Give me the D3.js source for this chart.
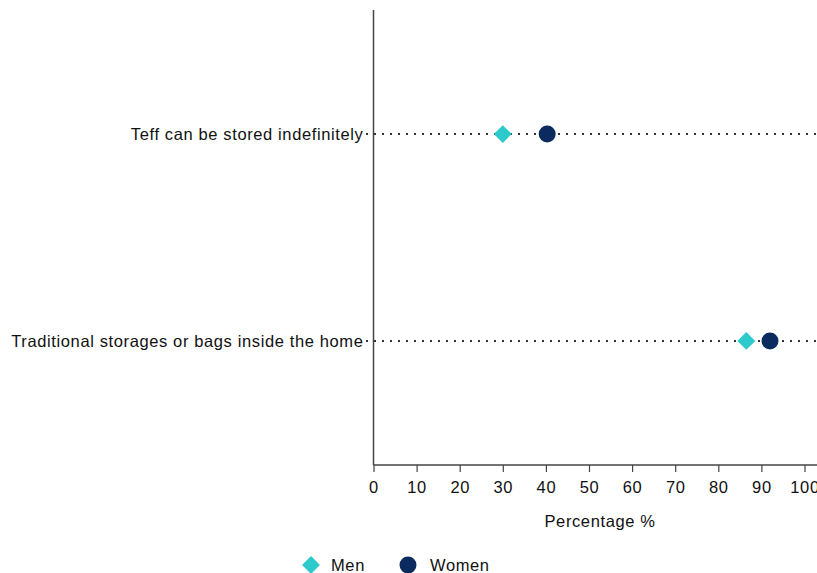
<!DOCTYPE html>
<html><head><meta charset="utf-8">
<script src="https://cdn.jsdelivr.net/npm/d3@7"></script>
<style>body{margin:0;background:#fff;}svg{display:block;font-family:"Liberation Sans",Arial,Helvetica,sans-serif;}text{letter-spacing:0.62px;}</style>
</head><body><svg id="c" width="817" height="573"></svg>
<script>
const categories = ["Teff can be stored indefinitely", "Traditional storages or bags inside the home"];
const menValues = [30, 86.5];
const womenValues = [40.3, 92];
const xTicks = [0,10,20,30,40,50,60,70,80,90,100];
const seriesNames = ["Men", "Women"];
const seriesColors = ["#2ccacc", "#0b2a5e"];
const FS = 16.5;

const svg = d3.select("#c");
const x = d3.scaleLinear().domain([0,100]).range([373.5, 804.5]);
const y = d3.scalePoint().domain(categories).range([10, 465]).padding(0.6);

// dotted guide lines
svg.append("g").selectAll("line").data(categories).join("line")
  .attr("x1", 366).attr("x2", 817)
  .attr("y1", d => y(d)).attr("y2", d => y(d))
  .attr("stroke", "#333").attr("stroke-width", 2)
  .attr("stroke-dasharray", "2,6").attr("stroke-linecap","butt");

// y axis
const gy = svg.append("g").attr("transform", "translate(373.5,0)");
gy.append("line").attr("y1", 10).attr("y2", 465).attr("stroke", "#444").attr("stroke-width", 1.5);
gy.selectAll("text").data(categories).join("text")
  .attr("x", -10).attr("y", d => y(d)).attr("dy", "0.35em")
  .attr("text-anchor", "end").attr("font-size", FS).attr("fill", "#111").text(d => d);

// x axis
const gx = svg.append("g").attr("transform", "translate(0,465)")
  .call(d3.axisBottom(x).tickValues(xTicks).tickSize(7).tickPadding(9).tickSizeOuter(0));
gx.select(".domain").attr("stroke", "#444").attr("stroke-width", 1.5).attr("d", "M373.5,0H817");
gx.selectAll(".tick line").attr("stroke", "#444").attr("stroke-width", 1.2);
gx.selectAll(".tick text").attr("font-size", FS).attr("fill", "#111")
  .attr("font-family", '"Liberation Sans",Arial,sans-serif');

svg.append("text").attr("x", 600).attr("y", 521).attr("dy","0.35em").attr("text-anchor", "middle")
  .attr("font-size", FS).attr("fill", "#111").text("Percentage %");

// markers
const diamond = d3.symbol().type(d3.symbolSquare).size(160);
svg.append("g").selectAll("path").data(categories).join("path")
  .attr("d", diamond())
  .attr("transform", (d,i) => `translate(${x(menValues[i])},${y(d)}) rotate(45)`)
  .attr("fill", seriesColors[0]);
svg.append("g").selectAll("circle").data(categories).join("circle")
  .attr("cx", (d,i) => x(womenValues[i])).attr("cy", d => y(d)).attr("r", 8.5)
  .attr("fill", seriesColors[1]);

// legend
const leg = svg.append("g");
const legX = [311, 408];
seriesNames.forEach((s,i) => {
  if (i === 0) {
    leg.append("path").attr("d", diamond())
      .attr("transform", `translate(${legX[i]},565) rotate(45)`).attr("fill", seriesColors[0]);
  } else {
    leg.append("circle").attr("cx", legX[i]).attr("cy", 565).attr("r", 8.5).attr("fill", seriesColors[1]);
  }
  leg.append("text").attr("x", legX[i] + (i===0?20:22)).attr("y", 565).attr("dy","0.35em")
    .attr("font-size", FS).attr("fill", "#111").text(s);
});
</script></body></html>
